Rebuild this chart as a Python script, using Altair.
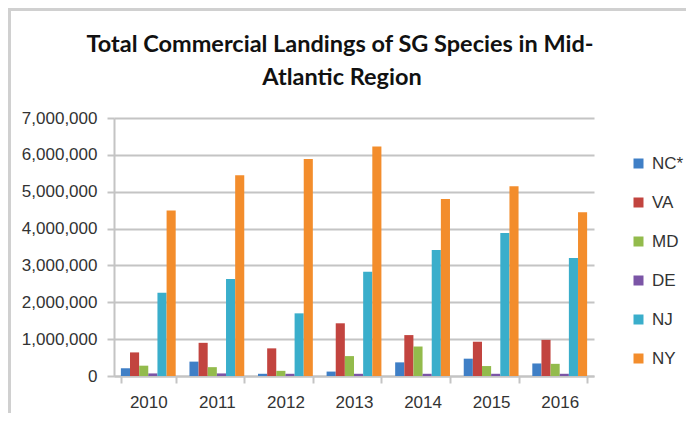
import altair as alt
import pandas as pd

years = ["2010", "2011", "2012", "2013", "2014", "2015", "2016"]
states = ["NC*", "VA", "MD", "DE", "NJ", "NY"]
colors = ["#3f7fc6", "#c2443f", "#93bb4c", "#7b55a6", "#3aaecb", "#f38d2c"]
title_lines = ["Total Commercial Landings of SG Species in Mid-", "Atlantic Region"]

nc = [210000, 390000, 60000, 120000, 370000, 470000, 340000]
va = [640000, 900000, 750000, 1430000, 1110000, 930000, 980000]
md = [280000, 240000, 140000, 540000, 800000, 270000, 330000]
de = [70000, 70000, 60000, 60000, 60000, 60000, 60000]
nj = [2260000, 2630000, 1700000, 2830000, 3420000, 3880000, 3200000]
ny = [4490000, 5450000, 5890000, 6230000, 4800000, 5150000, 4440000]

series = [nc, va, md, de, nj, ny]
rows = []
for s, vals in zip(states, series):
    for y, v in zip(years, vals):
        rows.append({"Year": y, "State": s, "Landings": v})
df = pd.DataFrame(rows)

FONT = "Liberation Sans"
GRID = "#c4c4c4"

bars = alt.Chart(df).mark_bar(size=9.1).encode(
    x=alt.X("Year:N", sort=years, title=None,
            scale=alt.Scale(paddingInner=0.2, paddingOuter=0.1),
            axis=alt.Axis(labelAngle=0, tickBand="extent", tickSize=7,
                          tickColor=GRID, tickWidth=2, domainColor=GRID,
                          domainWidth=2, labelFont=FONT, labelFontSize=17,
                          labelColor="#333333", labelPadding=11, grid=False)),
    xOffset=alt.XOffset("State:N", sort=states,
                        scale=alt.Scale(paddingInner=0, paddingOuter=0)),
    y=alt.Y("Landings:Q", title=None,
            scale=alt.Scale(domain=[0, 7000000], nice=False),
            axis=alt.Axis(values=[0, 1000000, 2000000, 3000000, 4000000,
                                  5000000, 6000000, 7000000],
                          format=",d", tickSize=7, tickColor=GRID, tickWidth=2,
                          domainColor=GRID, domainWidth=2, gridColor=GRID,
                          gridWidth=2, labelFont=FONT, labelFontSize=17,
                          labelColor="#333333", labelPadding=10)),
    color=alt.Color("State:N", sort=states,
                    scale=alt.Scale(domain=states, range=colors),
                    legend=alt.Legend(title=None, orient="none", legendX=516,
                                      legendY=37, padding=0, symbolType="square",
                                      symbolSize=100, symbolStrokeWidth=0,
                                      symbolOffset=0,
                                      labelFont=FONT, labelFontSize=17,
                                      labelColor="#333333", labelOffset=5,
                                      rowPadding=21)),
)

one = alt.Data(values=[{"a": 1}])
frame_top = alt.Chart(one).mark_rule(color="#d0d0d0", strokeWidth=3).encode(
    x=alt.value(-106), x2=alt.value(580), y=alt.value(-108.5))
frame_left = alt.Chart(one).mark_rule(color="#d0d0d0", strokeWidth=3).encode(
    x=alt.value(-104.5), y=alt.value(-110), y2=alt.value(300))

title_style = dict(font="Lato", fontSize=23.5, fontWeight="bold", color="#111111",
                   align="center", baseline="middle")
title1 = alt.Chart(one).mark_text(**title_style).encode(
    text=alt.value(title_lines[0]), x=alt.value(226), y=alt.value(-73))
title2 = alt.Chart(one).mark_text(**title_style).encode(
    text=alt.value(title_lines[1]), x=alt.value(228), y=alt.value(-40))

chart = alt.layer(bars, frame_top, frame_left, title1, title2).properties(
    width=480, height=258,
    autosize=alt.AutoSizeParams(type="none"),
    padding={"left": 106, "top": 110, "right": 92, "bottom": 37},
).configure_view(stroke=None)

chart.save("out.html", embed_options={"renderer": "svg", "actions": False})
